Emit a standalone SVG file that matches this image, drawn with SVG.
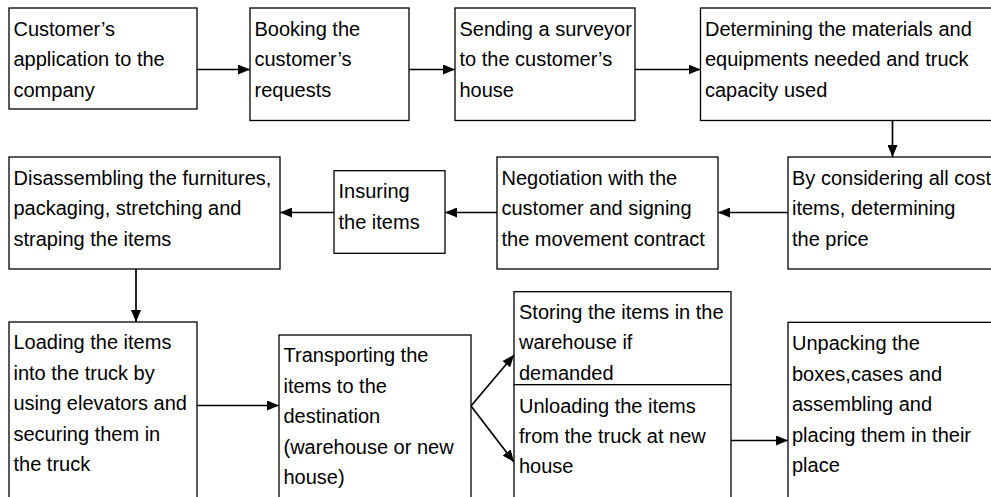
<svg xmlns="http://www.w3.org/2000/svg" width="991" height="497" viewBox="0 0 991 497">
<defs>
<marker id="ah" markerUnits="userSpaceOnUse" markerWidth="12" markerHeight="10" refX="12" refY="5" orient="auto">
<path d="M0,0 L12,5 L0,10 Z" fill="#000"/>
</marker>
<style>
.box{fill:#fff;stroke:#000;stroke-width:1.3}
.t{font-family:"Liberation Sans",Arial,sans-serif;font-size:20px;fill:#000}
.c{fill:none;stroke:#000;stroke-width:1.7;marker-end:url(#ah)}
</style>
</defs>
<rect width="991" height="497" fill="#fff"/>
<g id="connectors">
<line class="c" x1="197" y1="69.5" x2="250" y2="69.5"/>
<line class="c" x1="409" y1="69.5" x2="455" y2="69.5"/>
<line class="c" x1="635" y1="69.5" x2="700.5" y2="69.5"/>
<line class="c" x1="892.5" y1="120.5" x2="892.5" y2="157"/>
<line class="c" x1="788" y1="212.5" x2="718" y2="212.5"/>
<line class="c" x1="497" y1="212.5" x2="445" y2="212.5"/>
<line class="c" x1="334" y1="212.5" x2="280" y2="212.5"/>
<line class="c" x1="136" y1="269" x2="136" y2="322"/>
<line class="c" x1="197" y1="405.5" x2="279" y2="405.5"/>
<line class="c" x1="471" y1="406" x2="514" y2="355"/>
<line class="c" x1="471" y1="406" x2="514" y2="462"/>
<line class="c" x1="731" y1="440.5" x2="788" y2="440.5"/>
</g>
<g id="n1"><rect class="box" x="9" y="8" width="188" height="101"/>
<text class="t" x="13.5" y="35.5"><tspan x="13.5">Customer’s</tspan><tspan x="13.5" y="66">application to the</tspan><tspan x="13.5" y="96.5">company</tspan></text></g>
<g id="n2"><rect class="box" x="250" y="8" width="159" height="112.5"/>
<text class="t" x="254.5" y="35.5"><tspan x="254.5">Booking the</tspan><tspan x="254.5" y="66">customer’s</tspan><tspan x="254.5" y="96.5">requests</tspan></text></g>
<g id="n3"><rect class="box" x="455" y="8" width="180" height="112.5"/>
<text class="t" x="459.5" y="35.5"><tspan x="459.5">Sending a surveyor</tspan><tspan x="459.5" y="66">to the customer’s</tspan><tspan x="459.5" y="96.5">house</tspan></text></g>
<g id="n4"><rect class="box" x="700.5" y="8" width="310" height="112.5"/>
<text class="t" x="705" y="35.5"><tspan x="705">Determining the materials and</tspan><tspan x="705" y="66">equipments needed and truck</tspan><tspan x="705" y="96.5">capacity used</tspan></text></g>
<g id="n5"><rect class="box" x="788" y="157" width="220" height="112"/>
<text class="t" x="792" y="184.5"><tspan x="792">By considering all cost</tspan><tspan x="792" y="215">items, determining</tspan><tspan x="792" y="245.5">the price</tspan></text></g>
<g id="n6"><rect class="box" x="497" y="157" width="221" height="112"/>
<text class="t" x="501.5" y="184.5"><tspan x="501.5">Negotiation with the</tspan><tspan x="501.5" y="215">customer and signing</tspan><tspan x="501.5" y="245.5">the movement contract</tspan></text></g>
<g id="n7"><rect class="box" x="334" y="170.7" width="111" height="82.6"/>
<text class="t" x="338.5" y="198.3"><tspan x="338.5">Insuring</tspan><tspan x="338.5" y="228.5">the items</tspan></text></g>
<g id="n8"><rect class="box" x="9" y="157" width="271" height="112"/>
<text class="t" x="13.5" y="184.5"><tspan x="13.5">Disassembling the furnitures,</tspan><tspan x="13.5" y="215">packaging, stretching and</tspan><tspan x="13.5" y="245.5">straping the items</tspan></text></g>
<g id="n9"><rect class="box" x="9" y="322" width="188" height="200"/>
<text class="t" x="13.5" y="349"><tspan x="13.5">Loading the items</tspan><tspan x="13.5" y="379.5">into the truck by</tspan><tspan x="13.5" y="410">using elevators and</tspan><tspan x="13.5" y="440.5">securing them in</tspan><tspan x="13.5" y="471">the truck</tspan></text></g>
<g id="n10"><rect class="box" x="279" y="335" width="192" height="200"/>
<text class="t" x="283.5" y="362"><tspan x="283.5">Transporting the</tspan><tspan x="283.5" y="392.5">items to the</tspan><tspan x="283.5" y="423">destination</tspan><tspan x="283.5" y="453.5">(warehouse or new</tspan><tspan x="283.5" y="484">house)</tspan></text></g>
<g id="n11"><rect class="box" x="514" y="291.7" width="217" height="93"/>
<text class="t" x="519" y="318.5"><tspan x="519">Storing the items in the</tspan><tspan x="519" y="349">warehouse if</tspan><tspan x="519" y="379.5">demanded</tspan></text></g>
<g id="n12"><rect class="box" x="514" y="384.7" width="217" height="150"/>
<text class="t" x="519" y="412.5"><tspan x="519">Unloading the items</tspan><tspan x="519" y="443">from the truck at new</tspan><tspan x="519" y="473">house</tspan></text></g>
<g id="n13"><rect class="box" x="788" y="322.3" width="220" height="200"/>
<text class="t" x="792" y="350"><tspan x="792">Unpacking the</tspan><tspan x="792" y="380.5">boxes,cases and</tspan><tspan x="792" y="411">assembling and</tspan><tspan x="792" y="441.5">placing them in their</tspan><tspan x="792" y="472">place</tspan></text></g>
</svg>
